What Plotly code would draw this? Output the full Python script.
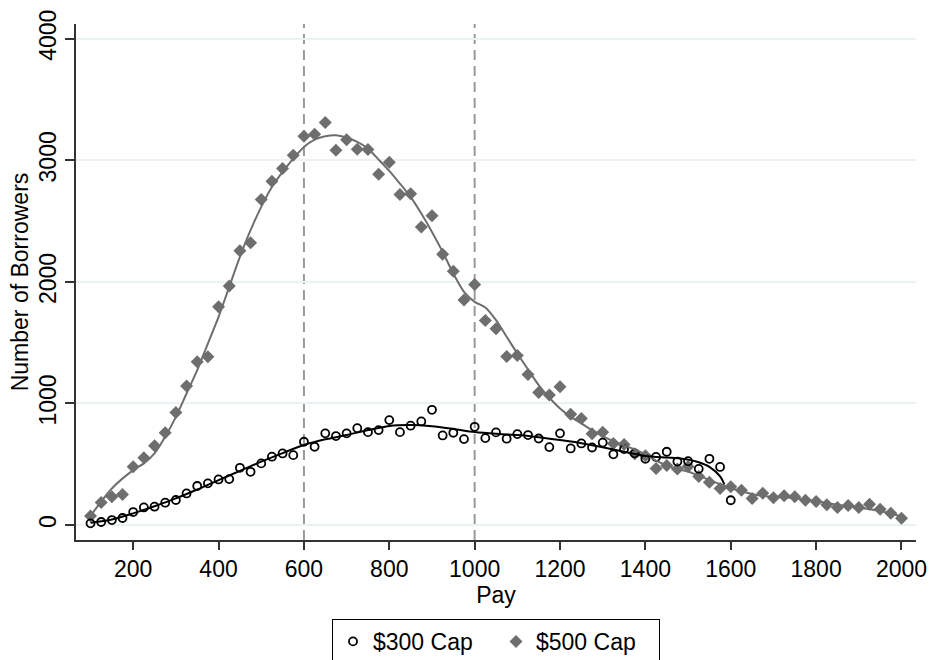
import plotly.graph_objects as go

# ---- data ----
pay_300 = [100, 125, 150, 175, 200, 225, 250, 275, 300, 325, 350, 375, 400, 425, 450, 475,
           500, 525, 550, 575, 600, 625, 650, 675, 700, 725, 750, 775, 800, 825, 850, 875,
           900, 925, 950, 975, 1000, 1025, 1050, 1075, 1100, 1125, 1150, 1175, 1200, 1225,
           1250, 1275, 1300, 1325, 1350, 1375, 1400, 1425, 1450, 1475, 1500, 1525, 1550,
           1575, 1600]
borrowers_300 = [14, 25, 41, 58, 107, 145, 151, 184, 206, 260, 321, 343, 375, 378, 471, 438,
                 507, 562, 589, 575, 685, 644, 754, 732, 754, 797, 764, 781, 863, 764, 817, 852,
                 948, 737, 759, 707, 808, 715, 762, 710, 748, 740, 712, 641, 754, 630,
                 671, 638, 678, 582, 625, 590, 545, 560, 603, 522, 525, 462, 545,
                 478, 204]

pay_500 = [100, 125, 150, 175, 200, 225, 250, 275, 300, 325, 350, 375, 400, 425, 450, 475,
           500, 525, 550, 575, 600, 625, 650, 675, 700, 725, 750, 775, 800, 825, 850, 875,
           900, 925, 950, 975, 1000, 1025, 1050, 1075, 1100, 1125, 1150, 1175, 1200, 1225,
           1250, 1275, 1300, 1325, 1350, 1375, 1400, 1425, 1450, 1475, 1500, 1525, 1550,
           1575, 1600, 1625, 1650, 1675, 1700, 1725, 1750, 1775, 1800, 1825, 1850, 1875,
           1900, 1925, 1950, 1975, 2000]
borrowers_500 = [74, 186, 233, 252, 480, 553, 652, 759, 926, 1143, 1343, 1384, 1795, 1967, 2255, 2321,
                 2677, 2828, 2932, 3041, 3198, 3214, 3310, 3083, 3170, 3091, 3088, 2885, 2984, 2718, 2724, 2452,
                 2543, 2228, 2088, 1850, 1978, 1682, 1614, 1386, 1395, 1238, 1091, 1069, 1137, 912,
                 877, 751, 764, 671, 663, 586, 570, 465, 489, 461, 481, 400, 351,
                 301, 315, 287, 218, 262, 224, 240, 232, 204, 193, 166, 144, 160,
                 144, 171, 130, 97, 55]

# smoothed fit lines
fit_300_x = [100, 150, 200, 250, 300, 350, 400, 450, 500, 550, 600, 650, 700, 750, 800, 850,
             900, 950, 1000, 1050, 1100, 1150, 1200, 1250, 1300, 1350, 1400, 1450, 1475, 1500,
             1525, 1550, 1575, 1585]
fit_300_y = [19, 45, 96, 155, 219, 292, 370, 445, 521, 592, 658, 705, 740, 781, 815, 822,
             812, 790, 765, 750, 740, 722, 699, 673, 640, 603, 568, 555, 549, 538,
             516, 478, 400, 335]

fit_500_x = [100, 150, 200, 225, 250, 275, 300, 325, 350, 375, 400, 425, 450, 475, 500, 525,
             550, 575, 600, 625, 650, 675, 700, 725, 750, 775, 800, 825, 850, 875, 900, 925,
             950, 975, 1000, 1025, 1050, 1075, 1100, 1125, 1150, 1175, 1200, 1225, 1250, 1275,
             1300, 1325, 1350, 1375, 1400, 1425, 1450, 1475, 1500, 1525, 1550, 1575, 1600,
             1625, 1650, 1675, 1700, 1750, 1800, 1850, 1900, 1950, 2000]
fit_500_y = [75, 301, 452, 507, 589, 726, 890, 1082, 1274, 1493, 1712, 1959, 2205, 2425, 2617, 2781,
             2904, 3014, 3110, 3170, 3198, 3206, 3187, 3151, 3096, 3006, 2913, 2808, 2699, 2562, 2411, 2247,
             2069, 1918, 1836, 1789, 1685, 1548, 1411, 1280, 1151, 1047, 959, 890, 836, 781,
             732, 690, 655, 622, 580, 530, 490, 460, 440, 405, 370, 335, 305,
             278, 256, 240, 232, 220, 195, 168, 142, 115, 70]

x_ticks = [200, 400, 600, 800, 1000, 1200, 1400, 1600, 1800, 2000]
y_ticks = [0, 1000, 2000, 3000, 4000]
ref_lines = [600, 1000]

FONT = "Liberation Sans, Arial, Helvetica, sans-serif"
GRAY = "#6e6e6e"
FS = 23

fig = go.Figure()

fig.add_trace(go.Scatter(
    x=pay_500, y=borrowers_500, mode="markers", name="$500 Cap", legendrank=2,
    marker=dict(symbol="diamond", size=10, color=GRAY, line=dict(width=0)),
))
fig.add_trace(go.Scatter(
    x=pay_300, y=borrowers_300, mode="markers", name="$300 Cap", legendrank=1,
    marker=dict(symbol="circle-open", size=8, color="black", line=dict(width=1.8, color="black")),
))
fig.add_trace(go.Scatter(
    x=fit_500_x, y=fit_500_y, mode="lines", showlegend=False, hoverinfo="skip",
    line=dict(color=GRAY, width=2, shape="spline", smoothing=0.8),
))
fig.add_trace(go.Scatter(
    x=fit_300_x, y=fit_300_y, mode="lines", showlegend=False, hoverinfo="skip",
    line=dict(color="black", width=2, shape="spline", smoothing=0.8),
))

for xv in ref_lines:
    fig.add_shape(type="line", xref="x", yref="paper", x0=xv, x1=xv, y0=0, y1=1,
                  line=dict(color="#9a9a9a", width=2, dash="10px,6px"), layer="below")

fig.update_layout(
    width=930, height=660,
    margin=dict(l=76, r=14, t=24, b=120, autoexpand=False),
    paper_bgcolor="white", plot_bgcolor="white",
    font=dict(family=FONT, size=FS, color="black"),
    showlegend=True,
    legend=dict(orientation="h", x=0.5, xanchor="center", y=-0.153, yanchor="top",
                bordercolor="black", borderwidth=1, font=dict(size=FS),
                traceorder="normal", itemsizing="trace",
                entrywidth=118, entrywidthmode="pixels"),
    xaxis=dict(
        range=[66, 2034], tickvals=x_ticks, ticks="outside", ticklen=8, tickwidth=1.5,
        tickcolor="#333", showline=True, linecolor="#333", linewidth=1.5,
        showgrid=False, zeroline=False,
        title=dict(text="Pay", standoff=1, font=dict(size=FS)),
        tickfont=dict(size=FS),
    ),
    yaxis=dict(
        range=[-123, 4121], tickvals=y_ticks, ticks="outside", ticklen=9, tickwidth=1.5,
        tickcolor="#333", showline=True, linecolor="#333", linewidth=1.5,
        showgrid=True, gridcolor="#eaf2f3", gridwidth=1.5, zeroline=False,
        tickangle=-90,
        title=dict(text="Number of Borrowers", standoff=0, font=dict(size=FS)),
        tickfont=dict(size=FS),
    ),
)

fig.write_html("out.html")
